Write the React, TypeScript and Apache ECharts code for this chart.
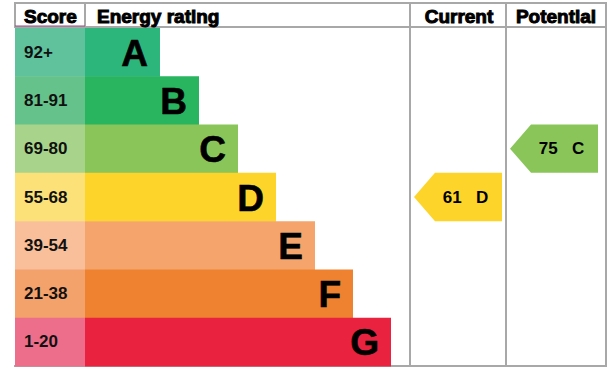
import React, { useEffect, useRef } from "react";
import * as echarts from "echarts";

const bands = ["A", "B", "C", "D", "E", "F", "G"];
const scoreRanges = ["92+", "81-91", "69-80", "55-68", "39-54", "21-38", "1-20"];
const bandMins = [92, 81, 69, 55, 39, 21, 1];
const barLengths = [75, 114, 153, 191, 230, 268, 306];
const scoreColors = ["#5fc29d", "#66c28b", "#a7d48a", "#fbe178", "#f8bf9a", "#f4a26c", "#ec6e8a"];
const barColors = ["#2cb67c", "#29b45f", "#8ac559", "#fdd42a", "#f5a46c", "#ef8231", "#e9233f"];
const headers = ["Score", "Energy rating", "Current", "Potential"];
const currentScore = 61;
const potentialScore = 75;

const FONT = "'Liberation Sans', Arial, sans-serif";
const SCORE_COL = 70; // axis units (px)
const CUR_COL = [395, 491];
const POT_COL = [491, 591];
const ARROW_W = 88;
const X_MAX = 591;

function bandOf(score: number) {
  return bandMins.findIndex((m) => score >= m);
}

export default function App() {
  const ref = useRef<HTMLDivElement>(null);
  useEffect(() => {
    if (!ref.current) return;
    const chart = echarts.init(ref.current, undefined, { renderer: "svg" });
    const gray = "#a8a8a8";
    const lineStyle = { stroke: gray, lineWidth: 2 };
    const headerText = (text: string, x: number, align: string) => ({
      type: "text",
      x,
      y: 16,
      style: {
        text,
        fill: "#000",
        font: `bold 19px ${FONT}`,
        textAlign: align,
        textVerticalAlign: "middle",
        stroke: "#000",
        lineWidth: 1,
      },
    });

    const arrowSeries = (score: number, col: number[]) => ({
      type: "custom",
      coordinateSystem: "cartesian2d",
      data: [[bandOf(score), score]],
      z: 5,
      renderItem: (params: any, api: any) => {
        const bi = api.value(0);
        const sc = api.value(1);
        const [xl, yc] = api.coord([col[0] + 4, bi]);
        const [xr] = api.coord([col[0] + 4 + ARROW_W, bi]);
        const h = api.size([0, 1])[1];
        const top = yc - h / 2;
        const bot = yc + h / 2;
        const tip = 21;
        return {
          type: "group",
          children: [
            {
              type: "polygon",
              shape: {
                points: [
                  [xl, yc],
                  [xl + tip, top],
                  [xr, top],
                  [xr, bot],
                  [xl + tip, bot],
                ],
              },
              style: { fill: barColors[bi] },
            },
            {
              type: "text",
              x: (xl + tip + xr) / 2 - 3,
              y: yc,
              style: {
                text: `${sc}   ${bands[bi]}`,
                fill: "#000",
                font: `bold 17px ${FONT}`,
                textAlign: "center",
                textVerticalAlign: "middle",
              },
            },
          ],
        };
      },
    });

    chart.setOption({
      animation: false,
      grid: { left: 15, right: 7, top: 28, bottom: 14 },
      xAxis: { type: "value", min: 0, max: X_MAX, show: false },
      yAxis: { type: "category", data: bands, inverse: true, show: false },
      series: [
        {
          type: "custom",
          coordinateSystem: "cartesian2d",
          data: bands.map((b, i) => [i, barLengths[i]]),
          renderItem: (params: any, api: any) => {
            const i = api.value(0);
            const len = api.value(1);
            const [x0, yc] = api.coord([0, i]);
            const [xs] = api.coord([SCORE_COL, i]);
            const [xe] = api.coord([SCORE_COL + len, i]);
            const h = api.size([0, 1])[1];
            const top = yc - h / 2;
            return {
              type: "group",
              children: [
                {
                  type: "rect",
                  shape: { x: x0, y: top, width: xs - x0, height: h + 0.5 },
                  style: { fill: scoreColors[i] },
                },
                {
                  type: "rect",
                  shape: { x: xs, y: top, width: xe - xs, height: h + 0.5 },
                  style: { fill: barColors[i] },
                },
                {
                  type: "text",
                  x: x0 + 9,
                  y: yc,
                  style: {
                    text: scoreRanges[i],
                    fill: "#111",
                    font: `bold 17px ${FONT}`,
                    textAlign: "left",
                    textVerticalAlign: "middle",
                  },
                },
                {
                  type: "text",
                  x: xe - 12,
                  y: yc + 1,
                  style: {
                    text: bands[i],
                    fill: "#000",
                    font: `bold 37px ${FONT}`,
                    textAlign: "right",
                    textVerticalAlign: "middle",
                    stroke: "#000",
                    lineWidth: 0.6,
                  },
                },
              ],
            };
          },
        },
        arrowSeries(currentScore, CUR_COL),
        arrowSeries(potentialScore, POT_COL),
      ],
      graphic: [
        { type: "line", shape: { x1: 14, y1: 3, x2: 607, y2: 3 }, style: lineStyle },
        { type: "line", shape: { x1: 15, y1: 3, x2: 15, y2: 28 }, style: lineStyle },
        { type: "line", shape: { x1: 85, y1: 3, x2: 85, y2: 28 }, style: lineStyle },
        { type: "line", shape: { x1: 14, y1: 27, x2: 607, y2: 27 }, style: lineStyle },
        { type: "line", shape: { x1: 15, y1: 26, x2: 85, y2: 26 }, style: { stroke: "#9a4d8c", lineWidth: 1 } },
        { type: "line", shape: { x1: 410, y1: 3, x2: 410, y2: 366 }, style: lineStyle },
        { type: "line", shape: { x1: 506, y1: 3, x2: 506, y2: 366 }, style: lineStyle },
        { type: "line", shape: { x1: 606, y1: 3, x2: 606, y2: 367 }, style: lineStyle },
        { type: "line", shape: { x1: 14, y1: 366, x2: 607, y2: 366 }, style: lineStyle },
        headerText(headers[0], 24, "left"),
        headerText(headers[1], 97, "left"),
        headerText(headers[2], 459, "center"),
        headerText(headers[3], 556, "center"),
      ],
    });
    return () => chart.dispose();
  }, []);
  return <div ref={ref} style={{ width: 613, height: 380, position: "absolute", left: 0, top: 0 }} />;
}
